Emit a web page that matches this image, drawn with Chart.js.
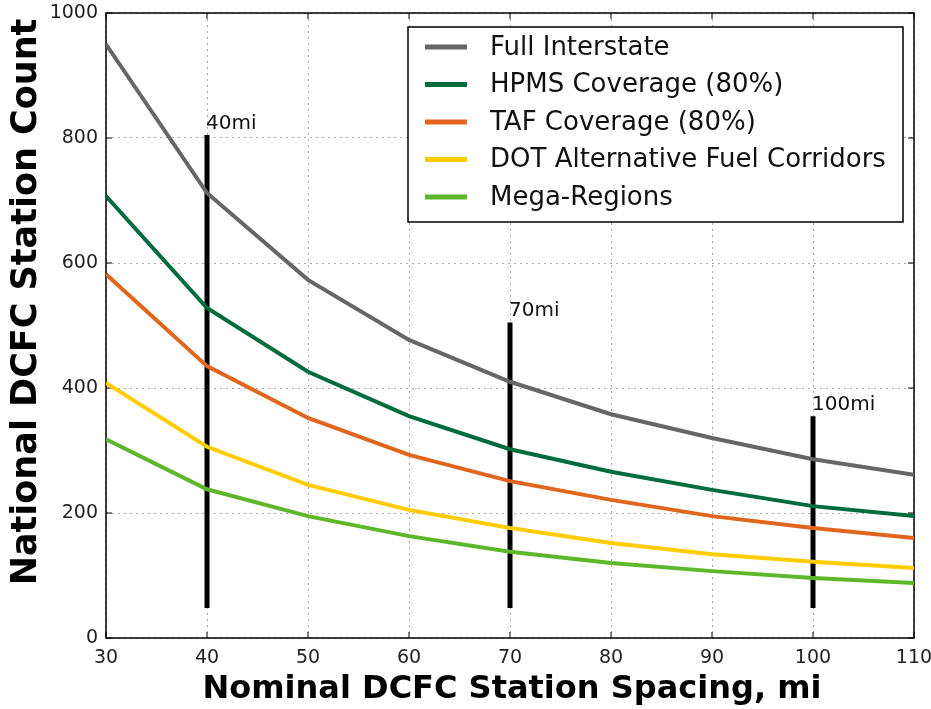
<!DOCTYPE html>
<html><head><meta charset="utf-8">
<script src="https://cdn.jsdelivr.net/npm/chart.js@4/dist/chart.umd.min.js"></script>
<style>html,body{margin:0;padding:0;background:#fff}canvas{display:block}</style>
</head><body>
<canvas id="c" width="931" height="709"></canvas>
<script>
const spacing = [30,40,50,60,70,80,90,100,110];
const fullInterstate = [950,712,573,477,410,358,320,286,261];
const hpms = [707,528,426,355,302,266,237,211,195];
const taf = [582,435,352,293,251,221,195,176,160];
const dotAfc = [408,306,245,205,176,152,134,122,112];
const megaRegions = [318,238,195,163,138,120,107,96,88];
const seriesNames = ['Full Interstate','HPMS Coverage (80%)','TAF Coverage (80%)','DOT Alternative Fuel Corridors','Mega-Regions'];
const seriesColors = ['#666666','#006b3c','#e0661e','#ffcc00','#5cb82a'];
const markerX = [40,70,100];
const markerTop = [805,505,355];
const markerBottom = 48;
const markerLabels = ['40mi','70mi','100mi'];
const xTicks = [30,40,50,60,70,80,90,100,110];
const yTicks = [0,200,400,600,800,1000];

const seriesValues = [fullInterstate,hpms,taf,dotAfc,megaRegions];
const datasets = seriesValues.map((vals,i)=>({
  label: seriesNames[i],
  data: spacing.map((x,j)=>({x:x,y:vals[j]})),
  borderColor: seriesColors[i], backgroundColor: seriesColors[i],
  borderWidth: 4, pointRadius: 0, tension: 0, fill:false
}));
markerX.forEach((x,i)=>{
  datasets.push({label: markerLabels[i], isMarker:true,
    data:[{x:x,y:markerBottom},{x:x,y:markerTop[i]}],
    borderColor:'#000', borderWidth:5, pointRadius:0, borderCapStyle:'butt'});
});

const FONT = "'DejaVu Sans', sans-serif";
const deco = {
  id:'deco',
  beforeDatasetsDraw(chart){
    const {ctx, chartArea:a} = chart;
    ctx.save();
    ctx.strokeStyle='#000'; ctx.lineWidth=1.5;
    ctx.strokeRect(a.left, a.top, a.right-a.left, a.bottom-a.top);
    const xs = chart.scales.x, ys = chart.scales.y;
    ctx.lineWidth=1;
    xTicks.forEach(v=>{const p=xs.getPixelForValue(v);
      ctx.beginPath();ctx.moveTo(p,a.bottom);ctx.lineTo(p,a.bottom-6);ctx.moveTo(p,a.top);ctx.lineTo(p,a.top+6);ctx.stroke();});
    yTicks.forEach(v=>{const p=ys.getPixelForValue(v);
      ctx.beginPath();ctx.moveTo(a.left,p);ctx.lineTo(a.left+6,p);ctx.moveTo(a.right,p);ctx.lineTo(a.right-6,p);ctx.stroke();});
    ctx.restore();
  },
  afterDatasetsDraw(chart){
    const {ctx, chartArea:a} = chart;
    const xs = chart.scales.x, ys = chart.scales.y;
    ctx.save();
    ctx.fillStyle='#111'; ctx.font='20px '+FONT; ctx.textAlign='left'; ctx.textBaseline='alphabetic';
    markerX.forEach((x,i)=>{
      ctx.fillText(markerLabels[i], xs.getPixelForValue(x)-1, ys.getPixelForValue(markerTop[i])-6);
    });
    const lx=408, ly=27, lw=495, lh=195;
    ctx.fillStyle='#fff'; ctx.fillRect(lx,ly,lw,lh);
    ctx.strokeStyle='#000'; ctx.lineWidth=1.5; ctx.strokeRect(lx,ly,lw,lh);
    ctx.font='26px '+FONT; ctx.textBaseline='middle';
    seriesNames.forEach((n,i)=>{
      const y = 47 + i*37.5;
      ctx.strokeStyle=seriesColors[i]; ctx.lineWidth=5;
      ctx.beginPath(); ctx.moveTo(425,y); ctx.lineTo(467,y); ctx.stroke();
      ctx.fillStyle='#111'; ctx.fillText(n, 490, y+1);
    });
    ctx.fillStyle='#000'; ctx.font='bold 32px '+FONT; ctx.textAlign='center';
    ctx.fillText('Nominal DCFC Station Spacing, mi', 512, 690);
    ctx.translate(27,302); ctx.rotate(-Math.PI/2);
    ctx.font='bold 35px '+FONT;
    ctx.fillText('National DCFC Station Count',0,0);
    ctx.restore();
  }
};

new Chart(document.getElementById('c'),{
  type:'line',
  data:{datasets},
  options:{
    responsive:false, animation:false,
    layout:{padding:{top:13,right:17,left:0,bottom:0}},
    plugins:{legend:{display:false},tooltip:{enabled:false}},
    scales:{
      x:{type:'linear',min:30,max:110,
        afterFit(s){s.height=71; s.paddingLeft=0; s.paddingRight=0;},
        afterBuildTicks(s){s.ticks=xTicks.map(v=>({value:v}));},
        ticks:{font:{family:FONT,size:19},color:'#222',padding:9,maxRotation:0,autoSkip:false,callback:v=>String(v)},
        grid:{color:'#aaa',lineWidth:1,drawTicks:false},
        border:{display:false,dash:[2,4]}
      },
      y:{type:'linear',min:0,max:1000,
        afterFit(s){s.width=106; s.paddingTop=0; s.paddingBottom=0;},
        afterBuildTicks(s){s.ticks=yTicks.map(v=>({value:v}));},
        ticks:{font:{family:FONT,size:19},color:'#222',padding:8,callback:v=>String(v)},
        grid:{color:'#aaa',lineWidth:1,drawTicks:false},
        border:{display:false,dash:[2,4]}
      }
    }
  },
  plugins:[deco]
});
</script>
</body></html>
